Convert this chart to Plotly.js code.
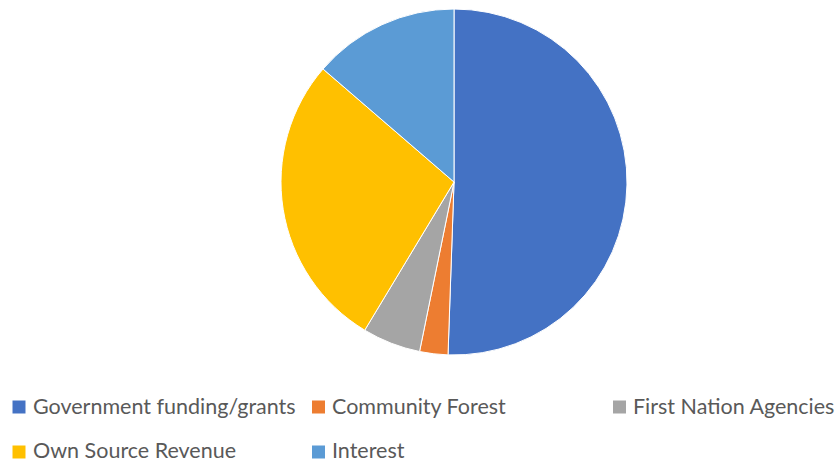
<!DOCTYPE html>
<html>
<head>
<meta charset="utf-8">
<script src="https://cdn.plot.ly/plotly-3.0.1.min.js"></script>
<style>html,body{margin:0;padding:0;background:#fff;}#chart{width:838px;height:464px;}</style>
</head>
<body>
<div id="chart"></div>
<script>
const categories = ["Government funding/grants", "Community Forest", "First Nation Agencies", "Own Source Revenue", "Interest"];
const values = [50.55, 2.64, 5.44, 27.7, 13.67];
const colors = ["#4472C4", "#ED7D31", "#A5A5A5", "#FFC000", "#5B9BD5"];

const W = 838, H = 464;
// legend layout: column x (px), square centre rows and text centre rows (px)
const legendCols = [12.5, 312, 613];
const legendSquareRows = [407, 452];
const legendTextRows = [405.5, 450];
const perRow = 3;

const shapes = [];
const annotations = [];
categories.forEach((c, i) => {
  const col = i % perRow, row = Math.floor(i / perRow);
  const x0 = legendCols[col], yc = legendSquareRows[row];
  shapes.push({type: 'rect', xref: 'paper', yref: 'paper',
    x0: x0 / W, x1: (x0 + 13) / W, y0: 1 - (yc + 6.5) / H, y1: 1 - (yc - 6.5) / H,
    fillcolor: colors[i], line: {width: 0}});
  annotations.push({xref: 'paper', yref: 'paper', x: (x0 + 18) / W, y: 1 - legendTextRows[row] / H,
    xanchor: 'left', yanchor: 'middle', showarrow: false, text: c,
    font: {family: 'Lato, sans-serif', size: 21.5, color: '#595959'}});
});

const cx = 454, cy = 182, r = 173;
const data = [{
  type: 'pie', labels: categories, values: values,
  marker: {colors: colors, line: {color: '#ffffff', width: 1}},
  sort: false, direction: 'clockwise', rotation: 0,
  textinfo: 'none', hoverinfo: 'label+percent', showlegend: false,
  domain: {x: [(cx - r) / W, (cx + r) / W], y: [1 - (cy + r) / H, 1 - (cy - r) / H]}
}];
const layout = {
  width: W, height: H, margin: {l: 0, r: 0, t: 0, b: 0},
  paper_bgcolor: '#fff', showlegend: false,
  shapes: shapes, annotations: annotations
};
Plotly.newPlot('chart', data, layout, {displayModeBar: false, staticPlot: true});
</script>
</body>
</html>
